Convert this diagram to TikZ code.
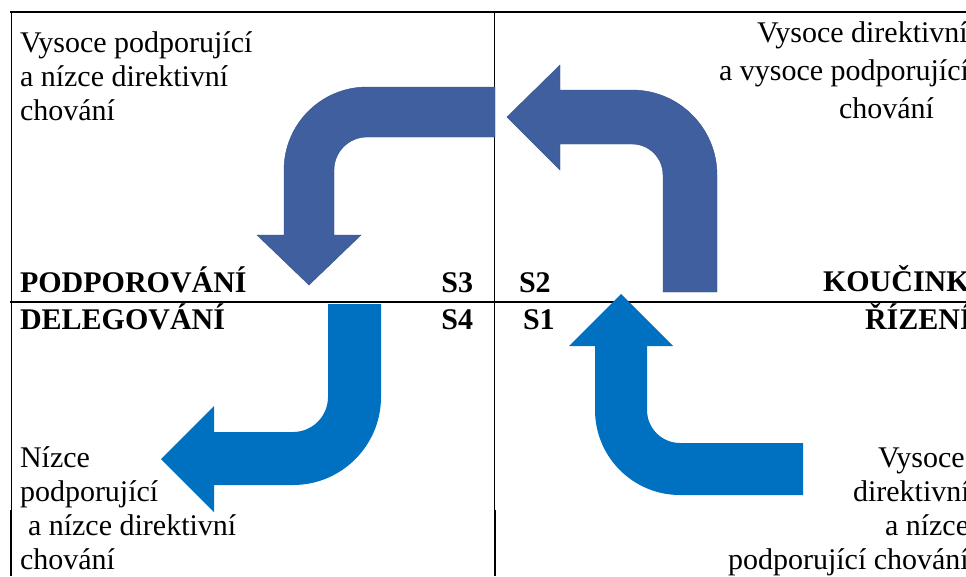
\documentclass[tikz,border=0pt]{standalone}
\usepackage{fontspec}
\setmainfont{Liberation Serif}
\definecolor{darkarrow}{RGB}{63,95,159}
\definecolor{lightarrow}{RGB}{0,112,192}
\begin{document}
\begin{tikzpicture}[x=1pt,y=-1pt,
  txt/.style={inner sep=0pt, outer sep=0pt, font=\fontsize{30}{34}\selectfont},
  btxt/.style={txt, font=\fontsize{30}{34}\selectfont\bfseries},
  gridline/.style={draw=black, line width=1.2pt},
  darkshape/.style={fill=darkarrow, draw=darkarrow!85!black, line width=0.4pt},
  lightshape/.style={fill=lightarrow, draw=none}]
\useasboundingbox (0,0) rectangle (966,576);
\clip (0,0) rectangle (966,576);
\fill[white] (0,0) rectangle (966,576);
% table lines
\draw[gridline] (10,12) -- (966,12);
\draw[gridline, line width=1pt] (11,12) -- (11,510);
\draw[gridline, line width=2pt] (11,510) -- (11,576);
\draw[gridline, line width=1pt] (494.5,12) -- (494.5,510);
\draw[gridline, line width=2pt] (494.5,510) -- (494.5,576);
\draw[gridline, line width=2pt] (10,301.5) -- (966,301.5);
% S2 arrow (dark, up then left)
\path[darkshape] (663,292) -- (717,292) -- (717,175)
  arc[start angle=0, end angle=-90, radius=85] -- (560,90) -- (560,65) -- (507,117)
  -- (560,170) -- (560,144) -- (632,144)
  arc[start angle=-90, end angle=0, radius=31] -- cycle;
% S3 arrow (dark, left then down)
\path[darkshape] (495,87) -- (367,87)
  arc[start angle=-90, end angle=-180, radius=83] -- (284,235) -- (257,235)
  -- (309,285) -- (361,235) -- (334,235) -- (334,170)
  arc[start angle=-180, end angle=-90, radius=33] -- (495,137) -- cycle;
% S4 arrow (light, down then left)
\path[lightshape] (328,304) -- (381,304) -- (381,397)
  arc[start angle=0, end angle=90, radius=88] -- (214,485) -- (214,512)
  -- (161,459) -- (214,406) -- (214,432) -- (293,432)
  arc[start angle=90, end angle=0, radius=35] -- cycle;
% S1 arrow (light, left then up)
\path[lightshape] (803,443) -- (680,443)
  arc[start angle=90, end angle=180, radius=33] -- (647,346) -- (673,346)
  -- (621,294) -- (569,346) -- (595,346) -- (595,410)
  arc[start angle=-180, end angle=-270, radius=85] -- (803,495) -- cycle;
% top-left text
\node[txt, anchor=base west] (tl1) at (20,52) {Vysoce podporující};
\node[txt, anchor=base west] (tl2) at (20,86) {a nízce direktivní};
\node[txt, anchor=base west] (tl3) at (20,120) {chování};
% top-right text
\node[txt, anchor=base west] (tr1) at (757,42) {Vysoce direktivní};
\node[txt, anchor=base west] (tr2) at (719,80) {a vysoce podporující};
\node[txt, anchor=base west] (tr3) at (839,118) {chování};
% labels
\node[btxt, anchor=base west] (podp) at (20,292) {PODPOROVÁNÍ};
\node[btxt, anchor=base east] (s3) at (473,292) {S3};
\node[btxt, anchor=base west] (s2) at (519,292) {S2};
\node[btxt, anchor=base west] (kouc) at (823,291) {KOUČINK};
\node[btxt, anchor=base west] (deleg) at (20,329) {DELEGOVÁNÍ};
\node[btxt, anchor=base east] (s4) at (473,329) {S4};
\node[btxt, anchor=base west] (s1) at (523,329) {S1};
\node[btxt, anchor=base west] (rizeni) at (865,329) {ŘÍZENÍ};
% bottom-left text
\node[txt, anchor=base west] (bl1) at (20,467) {Nízce};
\node[txt, anchor=base west] (bl2) at (20,501) {podporující};
\node[txt, anchor=base west] (bl3) at (28,535) {a nízce direktivní};
\node[txt, anchor=base west] (bl4) at (20,569) {chování};
% bottom-right text
\node[txt, anchor=base west] (br1) at (878,467) {Vysoce};
\node[txt, anchor=base west] (br2) at (853,501) {direktivní};
\node[txt, anchor=base west] (br3) at (885,535) {a nízce};
\node[txt, anchor=base west] (br4) at (728,569) {podporující chování};
\end{tikzpicture}
\end{document}
